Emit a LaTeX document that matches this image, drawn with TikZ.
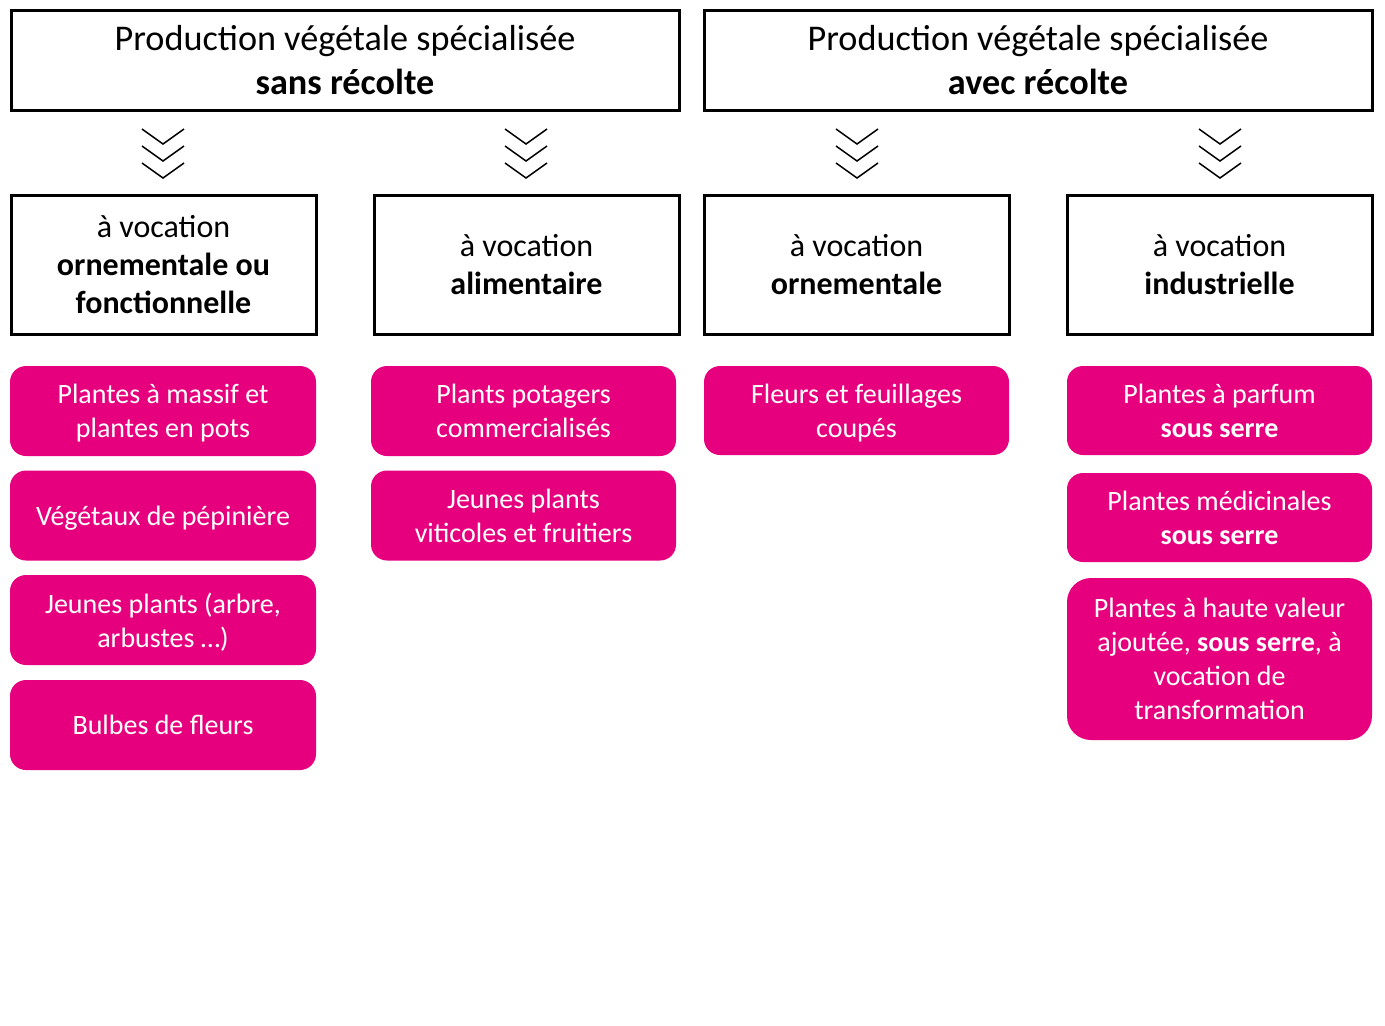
\documentclass[tikz,border=0pt]{standalone}
\usepackage{fontspec}
\setmainfont{Carlito}
\usetikzlibrary{positioning}
\definecolor{rose}{HTML}{E6007E}

\tikzset{
  titre/.style={draw, line width=1.5pt, minimum width=334pt, minimum height=50pt,
    align=center, inner sep=0pt, font=\fontsize{18.1}{22}\selectfont},
  vocation/.style={draw, line width=1.5pt, minimum width=152.5pt, minimum height=69.5pt,
    align=center, inner sep=0pt, font=\fontsize{16}{19}\selectfont},
  produit/.style={fill=rose, text=white, rounded corners=8pt, minimum width=153pt,
    minimum height=45pt, align=center, inner sep=0pt, text depth=0pt,
    font=\fontsize{14}{17}\selectfont},
  chevron/.style={line width=0.75pt}
}

\begin{document}
\begin{tikzpicture}[x=0.5pt, y=-0.5pt]
        \useasboundingbox (0,0) rectangle (1385,1025);
        % Titles
        \node[titre] (sans) at (345,60.5) {Production végétale spécialisée\\\textbf{sans récolte}};
        \node[titre] (avec) at (1038,60.5) {Production végétale spécialisée\\\textbf{avec récolte}};
        % Vocations
        \node[vocation] (orfo) at (163.5,265) {à vocation\\\textbf{ornementale ou}\\\textbf{fonctionnelle}};
        \node[vocation] (alim) at (526.5,265) {à vocation\\\textbf{alimentaire}};
        \node[vocation] (orne) at (856.5,265) {à vocation\\\textbf{ornementale}};
        \node[vocation] (indu) at (1219.5,265) {à vocation\\\textbf{industrielle}};
        % Chevrons
        \foreach \cx in {163,526,857,1220}
          \foreach \i in {0,1,2}
            \draw[chevron] (\cx-21,129+17*\i) -- (\cx,144+17*\i) -- (\cx+21,129+17*\i);
        % Products
        \node[produit] (massif) at (163,411) {Plantes à massif et\\plantes en pots};
        \node[produit] (pepi) at (163,515.5) {Végétaux de pépinière};
        \node[produit] (jeunes) at (163,620) {Jeunes plants (arbre,\\arbustes …)};
        \node[produit] (bulbes) at (163,725) {Bulbes de fleurs};
        \node[produit, minimum width=152.5pt] (potagers) at (523.5,411) {Plants potagers\\commercialisés};
        \node[produit, minimum width=152.5pt] (viti) at (523.5,515.5) {Jeunes plants\\viticoles et fruitiers};
        \node[produit, minimum width=152.5pt, minimum height=44.5pt] (fleurs) at (856.5,410.5) {Fleurs et feuillages\\coupés};
        \node[produit, minimum width=152.5pt, minimum height=44.5pt] (parfum) at (1219.5,410.5) {Plantes à parfum\\\textbf{sous serre}};
        \node[produit, minimum width=152.5pt, minimum height=44.5pt] (medic) at (1219.5,517.5) {Plantes médicinales\\\textbf{sous serre}};
        \node[produit, minimum width=152.5pt, minimum height=81pt, rounded corners=12pt] (haute) at (1219.5,659) {Plantes à haute valeur\\ajoutée, \textbf{sous serre}, à\\vocation de\\transformation};
    \end{tikzpicture}
\end{document}
